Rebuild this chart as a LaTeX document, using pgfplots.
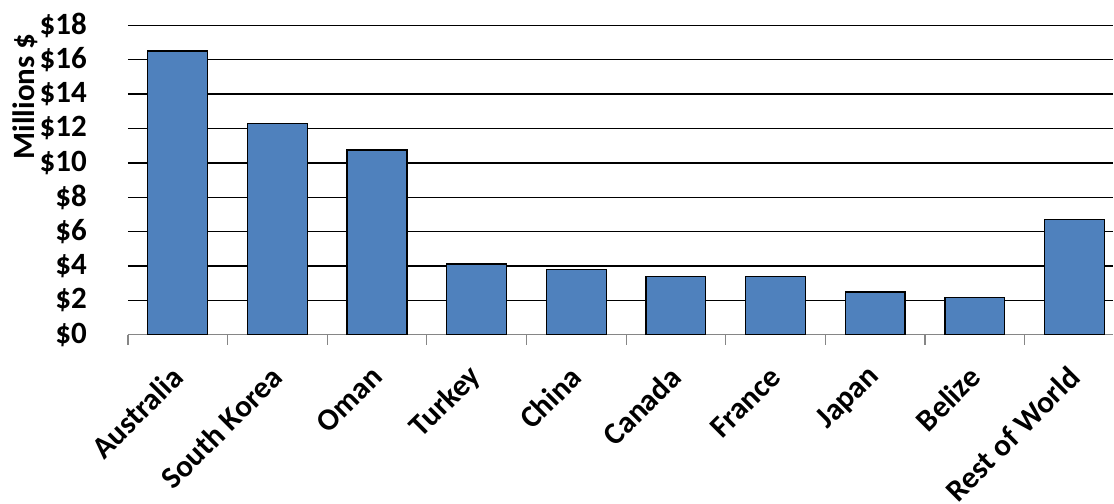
\documentclass[border=0pt]{standalone}
\usepackage{pgfplots}
\pgfplotsset{compat=1.18}
\usepackage{fontspec}
\setmainfont{Carlito}
\definecolor{barblue}{HTML}{4F81BD}
\definecolor{axgray}{HTML}{868686}
\begin{document}
\begin{tikzpicture}
\begin{axis}[
 scale only axis, width=493pt, height=154.85pt,
 xmin=-0.5, xmax=9.39, ymin=0, ymax=18,
 ybar, bar width=0.6,
 axis x line*=bottom, axis y line*=left,
 y axis line style={draw=none},
 x axis line style={draw=axgray, line width=0.6pt},
 ytick={0,2,...,18},
 yticklabels={\$0,\$2,\$4,\$6,\$8,\$10,\$12,\$14,\$16,\$18},
 ytick style={draw=none},
 ymajorgrids, grid style={black, line width=0.65pt},
 tick align=outside,
 major tick length=5pt,
 xtick={-0.5,0.5,...,8.5},
 xticklabels={},
 xtick style={draw=axgray, line width=0.6pt},
 extra x ticks={0,...,9},
 extra x tick labels={Australia,South Korea,Oman,Turkey,China,Canada,France,Japan,Belize,Rest of World},
 extra x tick style={major tick length=0pt, grid=none,
   xticklabel style={yshift=-18.5pt, xshift=0pt, rotate=45, anchor=east, inner sep=0pt}},
 tick label style={font=\bfseries\fontsize{15.5}{18}\selectfont},
 yticklabel style={anchor=east, inner sep=0pt, xshift=-15.4pt},
 ylabel={Millions \$},
 every axis y label/.style={at={(axis description cs:-0.117,0.77)}, rotate=90, anchor=north, inner sep=0pt, font=\bfseries\fontsize{15.5}{18}\selectfont},
]
\addplot[fill=barblue, draw=black, line width=0.65pt] coordinates {(0,16.5)(1,12.27)(2,10.75)(3,4.12)(4,3.8)(5,3.38)(6,3.38)(7,2.49)(8,2.15)(9,6.72)};
\end{axis}
\path (current axis.south west) ++(-64pt,-84.5pt);
\path (current axis.north east) ++(0,12.65pt);
\end{tikzpicture}
\end{document}
